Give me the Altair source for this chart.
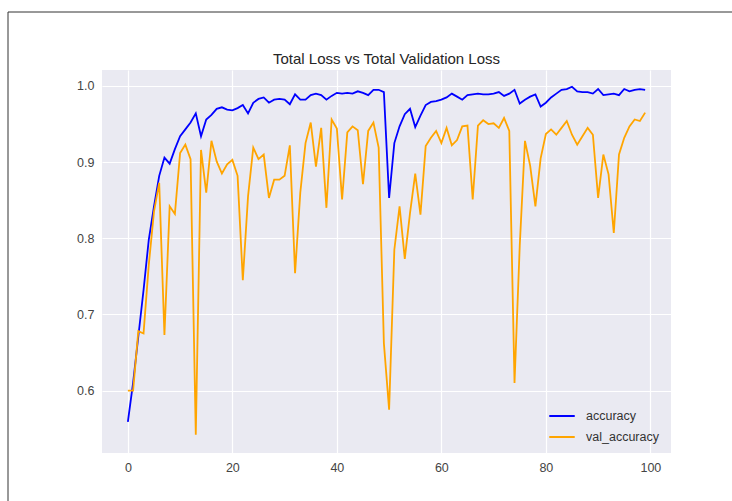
import altair as alt
import pandas as pd

epochs = list(range(100))

accuracy = [0.559, 0.610, 0.671, 0.732, 0.798, 0.842, 0.882, 0.906, 0.898, 0.917,
            0.934, 0.943, 0.952, 0.964, 0.934, 0.956, 0.962, 0.970, 0.972, 0.969,
            0.968, 0.971, 0.975, 0.964, 0.978, 0.983, 0.985, 0.978, 0.982, 0.983,
            0.982, 0.976, 0.989, 0.982, 0.982, 0.988, 0.990, 0.988, 0.982, 0.987,
            0.991, 0.990, 0.991, 0.990, 0.993, 0.991, 0.988, 0.995, 0.995, 0.992,
            0.853, 0.925, 0.947, 0.963, 0.970, 0.946, 0.961, 0.975, 0.979, 0.980,
            0.982, 0.985, 0.990, 0.986, 0.982, 0.988, 0.989, 0.990, 0.989, 0.989,
            0.990, 0.992, 0.987, 0.990, 0.995, 0.977, 0.982, 0.986, 0.989, 0.973,
            0.978, 0.985, 0.990, 0.995, 0.996, 0.999, 0.993, 0.992, 0.992, 0.990,
            0.996, 0.988, 0.989, 0.990, 0.988, 0.996, 0.993, 0.995, 0.996, 0.995]

val_accuracy = [0.600, 0.600, 0.678, 0.675, 0.765, 0.835, 0.873, 0.673, 0.842, 0.832,
                0.912, 0.923, 0.904, 0.542, 0.916, 0.860, 0.928, 0.901, 0.885, 0.897,
                0.903, 0.882, 0.745, 0.855, 0.919, 0.904, 0.910, 0.853, 0.877, 0.877,
                0.882, 0.922, 0.754, 0.860, 0.925, 0.952, 0.894, 0.945, 0.840, 0.956,
                0.944, 0.851, 0.939, 0.947, 0.942, 0.871, 0.941, 0.952, 0.919, 0.662,
                0.575, 0.785, 0.842, 0.773, 0.833, 0.885, 0.831, 0.921, 0.932, 0.941,
                0.925, 0.945, 0.922, 0.929, 0.947, 0.948, 0.851, 0.948, 0.955, 0.950,
                0.951, 0.945, 0.958, 0.941, 0.610, 0.790, 0.928, 0.895, 0.842, 0.905,
                0.937, 0.943, 0.936, 0.945, 0.954, 0.936, 0.923, 0.934, 0.945, 0.936,
                0.853, 0.910, 0.884, 0.807, 0.910, 0.932, 0.947, 0.956, 0.954, 0.965]

series_names = ["accuracy", "val_accuracy"]
series_colors = ["blue", "orange"]
x_ticks = [0, 20, 40, 60, 80, 100]
y_ticks = [0.6, 0.7, 0.8, 0.9, 1.0]

df = pd.concat([
    pd.DataFrame({"epoch": epochs, "value": accuracy, "series": "accuracy"}),
    pd.DataFrame({"epoch": epochs, "value": val_accuracy, "series": "val_accuracy"}),
])

FONT = "Liberation Sans"

lines = alt.Chart(df).mark_line(strokeWidth=1.8).encode(
    x=alt.X("epoch:Q", scale=alt.Scale(domain=[-4.95, 103.95], nice=False, zero=False),
            axis=alt.Axis(values=x_ticks, title=None, format="d")),
    y=alt.Y("value:Q", scale=alt.Scale(domain=[0.518, 1.021], nice=False, zero=False),
            axis=alt.Axis(values=y_ticks, title=None, format=".1f")),
    color=alt.Color("series:N",
                    scale=alt.Scale(domain=series_names, range=series_colors),
                    legend=alt.Legend(title=None, orient="none", legendX=446, legendY=332,
                                      symbolType="stroke", symbolSize=650,
                                      symbolStrokeWidth=2, labelFontSize=12.5,
                                      labelColor="#333333", labelFont=FONT,
                                      rowPadding=0, labelOffset=10)),
    order="epoch:Q",
)

border_src = pd.DataFrame({"k": [0]})
top_border = alt.Chart(border_src).mark_rule(color="#333333", strokeWidth=1).encode(
    x=alt.value(-94), x2=alt.value(640), y=alt.value(-58))
left_border = alt.Chart(border_src).mark_rule(color="#333333", strokeWidth=1).encode(
    x=alt.value(-94), y=alt.value(-58), y2=alt.value(440))

chart = alt.layer(lines, top_border, left_border).properties(
    width=569, height=383,
    title=alt.TitleParams("Total Loss vs Total Validation Loss", fontSize=15,
                          font=FONT, fontWeight="normal", color="#262626",
                          offset=0, dy=55),
    autosize=alt.AutoSizeParams(type="none"),
    padding={"left": 102, "top": 70, "right": 61, "bottom": 48},
    background="white",
).configure_view(
    fill="#EAEAF2", stroke=None
).configure_axis(
    domain=False, ticks=False, grid=True, gridColor="white", gridWidth=1.2,
    labelFont=FONT, labelFontSize=12.5, labelColor="#444444", labelPadding=8,
)

chart.save("out.html", embed_options={"renderer": "svg", "actions": False})
